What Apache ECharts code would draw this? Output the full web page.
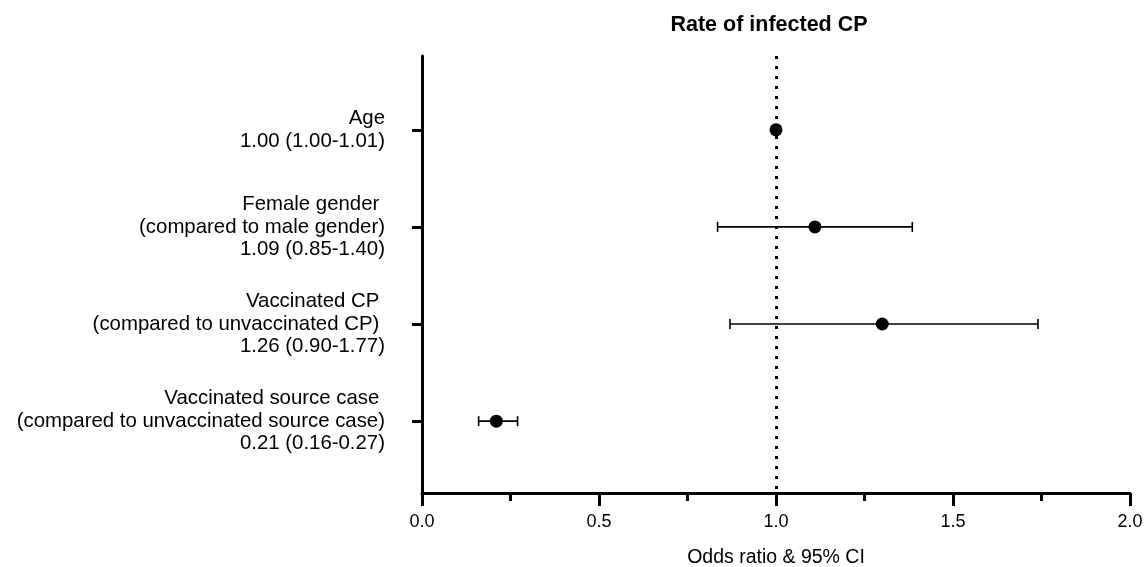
<!DOCTYPE html>
<html>
<head>
<meta charset="utf-8">
<script src="https://cdn.jsdelivr.net/npm/echarts@6/dist/echarts.min.js"></script>
<style>
  html, body { margin: 0; padding: 0; background: #ffffff; }
  #chart { width: 1145px; height: 567px; }
</style>
</head>
<body>
<div id="chart"></div>
<script>
// ---- data ----
const categoryLabels = [
  'Age\n1.00 (1.00-1.01)',
  'Female gender \n(compared to male gender)\n1.09 (0.85-1.40)',
  'Vaccinated CP \n(compared to unvaccinated CP) \n1.26 (0.90-1.77)',
  'Vaccinated source case \n(compared to unvaccinated source case)\n0.21 (0.16-0.27)'
];
const oddsRatio = [1.00, 1.11, 1.30, 0.21];
const ciLow     = [1.00, 0.835, 0.87, 0.16];
const ciHigh    = [1.01, 1.385, 1.74, 0.27];
const xTicks    = [0, 0.5, 1.0, 1.5, 2.0];
const referenceLine = 1.0;

const rowPos = categoryLabels.map((_, i) => i + 1);
const pointData = oddsRatio.map((v, i) => [v, rowPos[i]]);
const errData = ciLow.map((lo, i) => [lo, ciHigh[i], rowPos[i]]);

const FONT = '"Liberation Sans", Arial, Helvetica, sans-serif';
const chart = echarts.init(document.getElementById('chart'), null, { renderer: 'canvas' });

chart.setOption({
  backgroundColor: '#ffffff',
  animation: false,
  title: {
    text: 'Rate of infected CP',
    left: 764,
    top: 9,
    textAlign: 'center',
    textStyle: { fontFamily: FONT, fontSize: 21.5, fontWeight: 'bold', color: '#000' }
  },
  grid: { left: 422, right: 15, top: 56, bottom: 74, containLabel: false, outerBoundsMode: 'none' },
  xAxis: {
    type: 'value',
    min: xTicks[0],
    max: xTicks[xTicks.length - 1],
    interval: 0.5,
    name: 'Odds ratio & 95% CI',
    nameLocation: 'middle',
    nameGap: 55,
    nameTextStyle: { fontFamily: FONT, fontSize: 19.5, color: '#000' },
    axisLine: { show: true, onZero: false, lineStyle: { color: '#000', width: 3 } },
    axisTick: { show: true, length: 13, lineStyle: { color: '#000', width: 3 } },
    minorTick: { show: true, splitNumber: 2, length: 8, lineStyle: { color: '#000', width: 3 } },
    splitLine: { show: false },
    axisLabel: {
      fontFamily: FONT, fontSize: 18, color: '#000', margin: 20,
      formatter: v => v.toFixed(1)
    }
  },
  yAxis: {
    type: 'value',
    inverse: true,
    min: 0.24,
    max: 4.74,
    axisLine: { show: true, onZero: false, lineStyle: { color: '#000', width: 3 } },
    axisTick: { show: true, length: 10, customValues: rowPos, lineStyle: { color: '#000', width: 3 } },
    splitLine: { show: false },
    axisLabel: {
      customValues: rowPos,
      fontFamily: FONT, fontSize: 20.4, lineHeight: 22.5, color: '#000', margin: 37,
      align: 'right',
      formatter: v => categoryLabels[Math.round(v) - 1] || ''
    }
  },
  series: [
    {
      type: 'custom',
      z: 3,
      data: errData,
      renderItem: function (params, api) {
        const lo = api.coord([api.value(0), api.value(2)]);
        const hi = api.coord([api.value(1), api.value(2)]);
        const h = 5;
        const style = { stroke: '#000', lineWidth: 1.6 };
        return {
          type: 'group',
          children: [
            { type: 'line', shape: { x1: lo[0], y1: lo[1], x2: hi[0], y2: hi[1] }, style },
            { type: 'line', shape: { x1: lo[0], y1: lo[1] - h, x2: lo[0], y2: lo[1] + h }, style },
            { type: 'line', shape: { x1: hi[0], y1: hi[1] - h, x2: hi[0], y2: hi[1] + h }, style }
          ]
        };
      }
    },
    {
      type: 'scatter',
      z: 4,
      data: pointData,
      symbol: 'circle',
      symbolSize: 13,
      itemStyle: { color: '#000', opacity: 1 },
      markLine: {
        silent: true,
        symbol: ['none', 'none'],
        label: { show: false },
        lineStyle: { color: '#000', width: 3, type: [3, 7], cap: 'butt', opacity: 1 },
        data: [{ xAxis: referenceLine }]
      }
    }
  ]
});
</script>
</body>
</html>
